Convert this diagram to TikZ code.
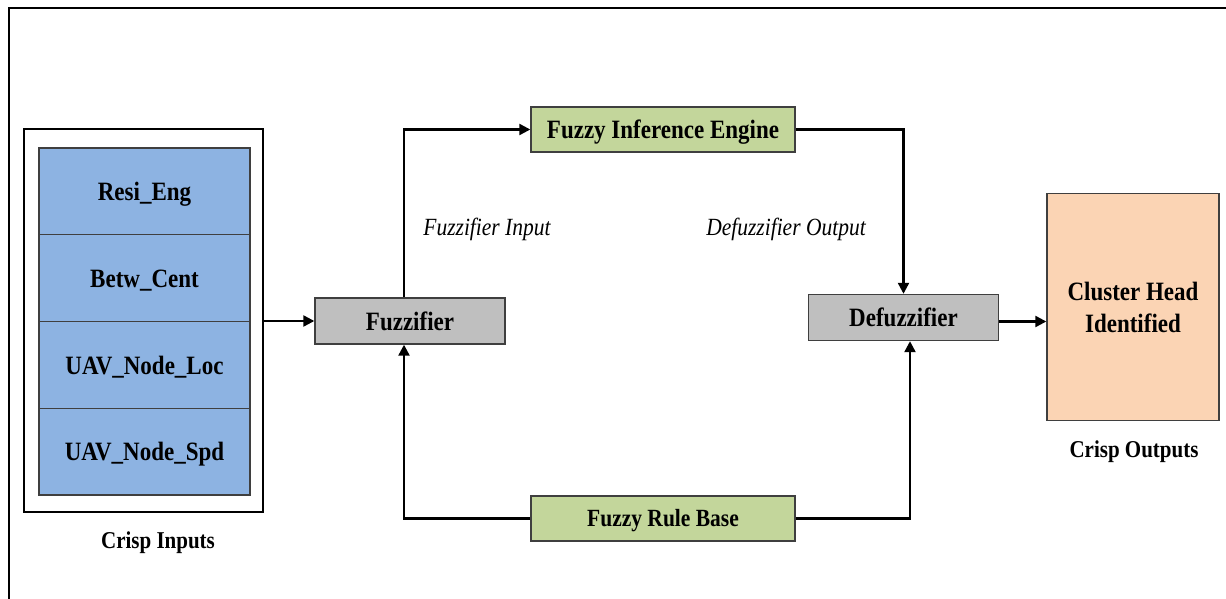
\documentclass[tikz,border=0pt]{standalone}
\usepackage{fontspec}
\usepackage{graphicx}
\setmainfont{Liberation Serif}
\usetikzlibrary{arrows.meta}
\definecolor{cellblue}{HTML}{8DB3E2}
\definecolor{boxgreen}{HTML}{C3D69B}
\definecolor{boxgray}{HTML}{BFBFBF}
\definecolor{boxpeach}{HTML}{FBD4B4}
\definecolor{edgegray}{HTML}{3F3F3F}
\newcommand{\tallt}[1]{\scalebox{1}[1.15]{#1}}
\newcommand{\lowt}[1]{\raisebox{-2.5pt}[\height][\depth]{\tallt{#1}}}
\tikzset{
  base/.style={draw=edgegray, line width=1.4pt, inner sep=0pt, align=center,
    font=\fontsize{23}{26}\selectfont\bfseries},
  cell/.style={base, fill=cellblue, minimum width=211pt, minimum height=86.75pt},
  graybox/.style={base, fill=boxgray, minimum width=190pt, minimum height=46pt},
  greenbox/.style={base, fill=boxgreen, minimum width=264pt, minimum height=45pt},
  peachbox/.style={base, fill=boxpeach, minimum width=172pt, minimum height=227pt},
  label/.style={font=\fontsize{21}{24}\selectfont\bfseries},
  ilabel/.style={font=\fontsize{21.5}{24}\selectfont\itshape},
  conn/.style={line width=2.3pt},
  arr/.style={conn, -{Triangle[length=11pt,width=11pt]}}
}
\begin{document}
\begin{tikzpicture}[x=1pt,y=-1pt]
\useasboundingbox (0,0) rectangle (1226,599);
% outer frame (cropped)
\draw[line width=2.5pt] (9,599) -- (9,8) -- (1226,8);
% input group
\node[draw=black, line width=2.6pt, minimum width=239pt, minimum height=383pt, inner sep=0pt] (inbox) at (143.5,320.5) {};
\node[cell] (c1) at (144.5,191.4) {\lowt{Resi\_Eng}};
\node[cell] (c2) at (144.5,278.1) {\lowt{Betw\_Cent}};
\node[cell] (c3) at (144.5,364.9) {\lowt{UAV\_Node\_Loc}};
\node[cell] (c4) at (144.5,451.6) {\lowt{UAV\_Node\_Spd}};
\node[label] (cin) at (158,543) {\tallt{Crisp Inputs}};
% process boxes
\node[graybox] (fuzz) at (410,321) {\tallt{Fuzzifier}};
\node[graybox] (defz) at (903.5,317.5) {\tallt{Defuzzifier}};
\node[greenbox] (fie) at (663,129.5) {\lowt{Fuzzy Inference Engine}};
\node[greenbox, font=\fontsize{21.5}{24}\selectfont\bfseries] (frb) at (663,518.5) {\lowt{Fuzzy Rule Base}};
\node[peachbox] (ch) at (1133,307) {\tallt{Cluster Head}\\[6pt]\tallt{Identified}};
\node[label] (cout) at (1134,452) {\tallt{Crisp Outputs}};
% italic labels
\node[ilabel] (fin) at (487,229) {\tallt{Fuzzifier Input}};
\node[ilabel] (dout) at (786,229) {\tallt{Defuzzifier Output}};
% connectors
\draw[arr] (fuzz.west -| inbox.east) -- (fuzz.west);
\draw[arr] ([xshift=-6pt]fuzz.north) |- (fie.west);
\draw[arr] (fie.east) -| (defz.north);
\draw[arr] (frb.west) -| ([xshift=-6pt]fuzz.south);
\draw[arr] (frb.east) -| ([xshift=6.5pt]defz.south);
\coordinate (dout1) at ([yshift=-4pt]defz.east);
\draw[arr] (dout1) -- (dout1 -| ch.west);
\end{tikzpicture}
\end{document}
